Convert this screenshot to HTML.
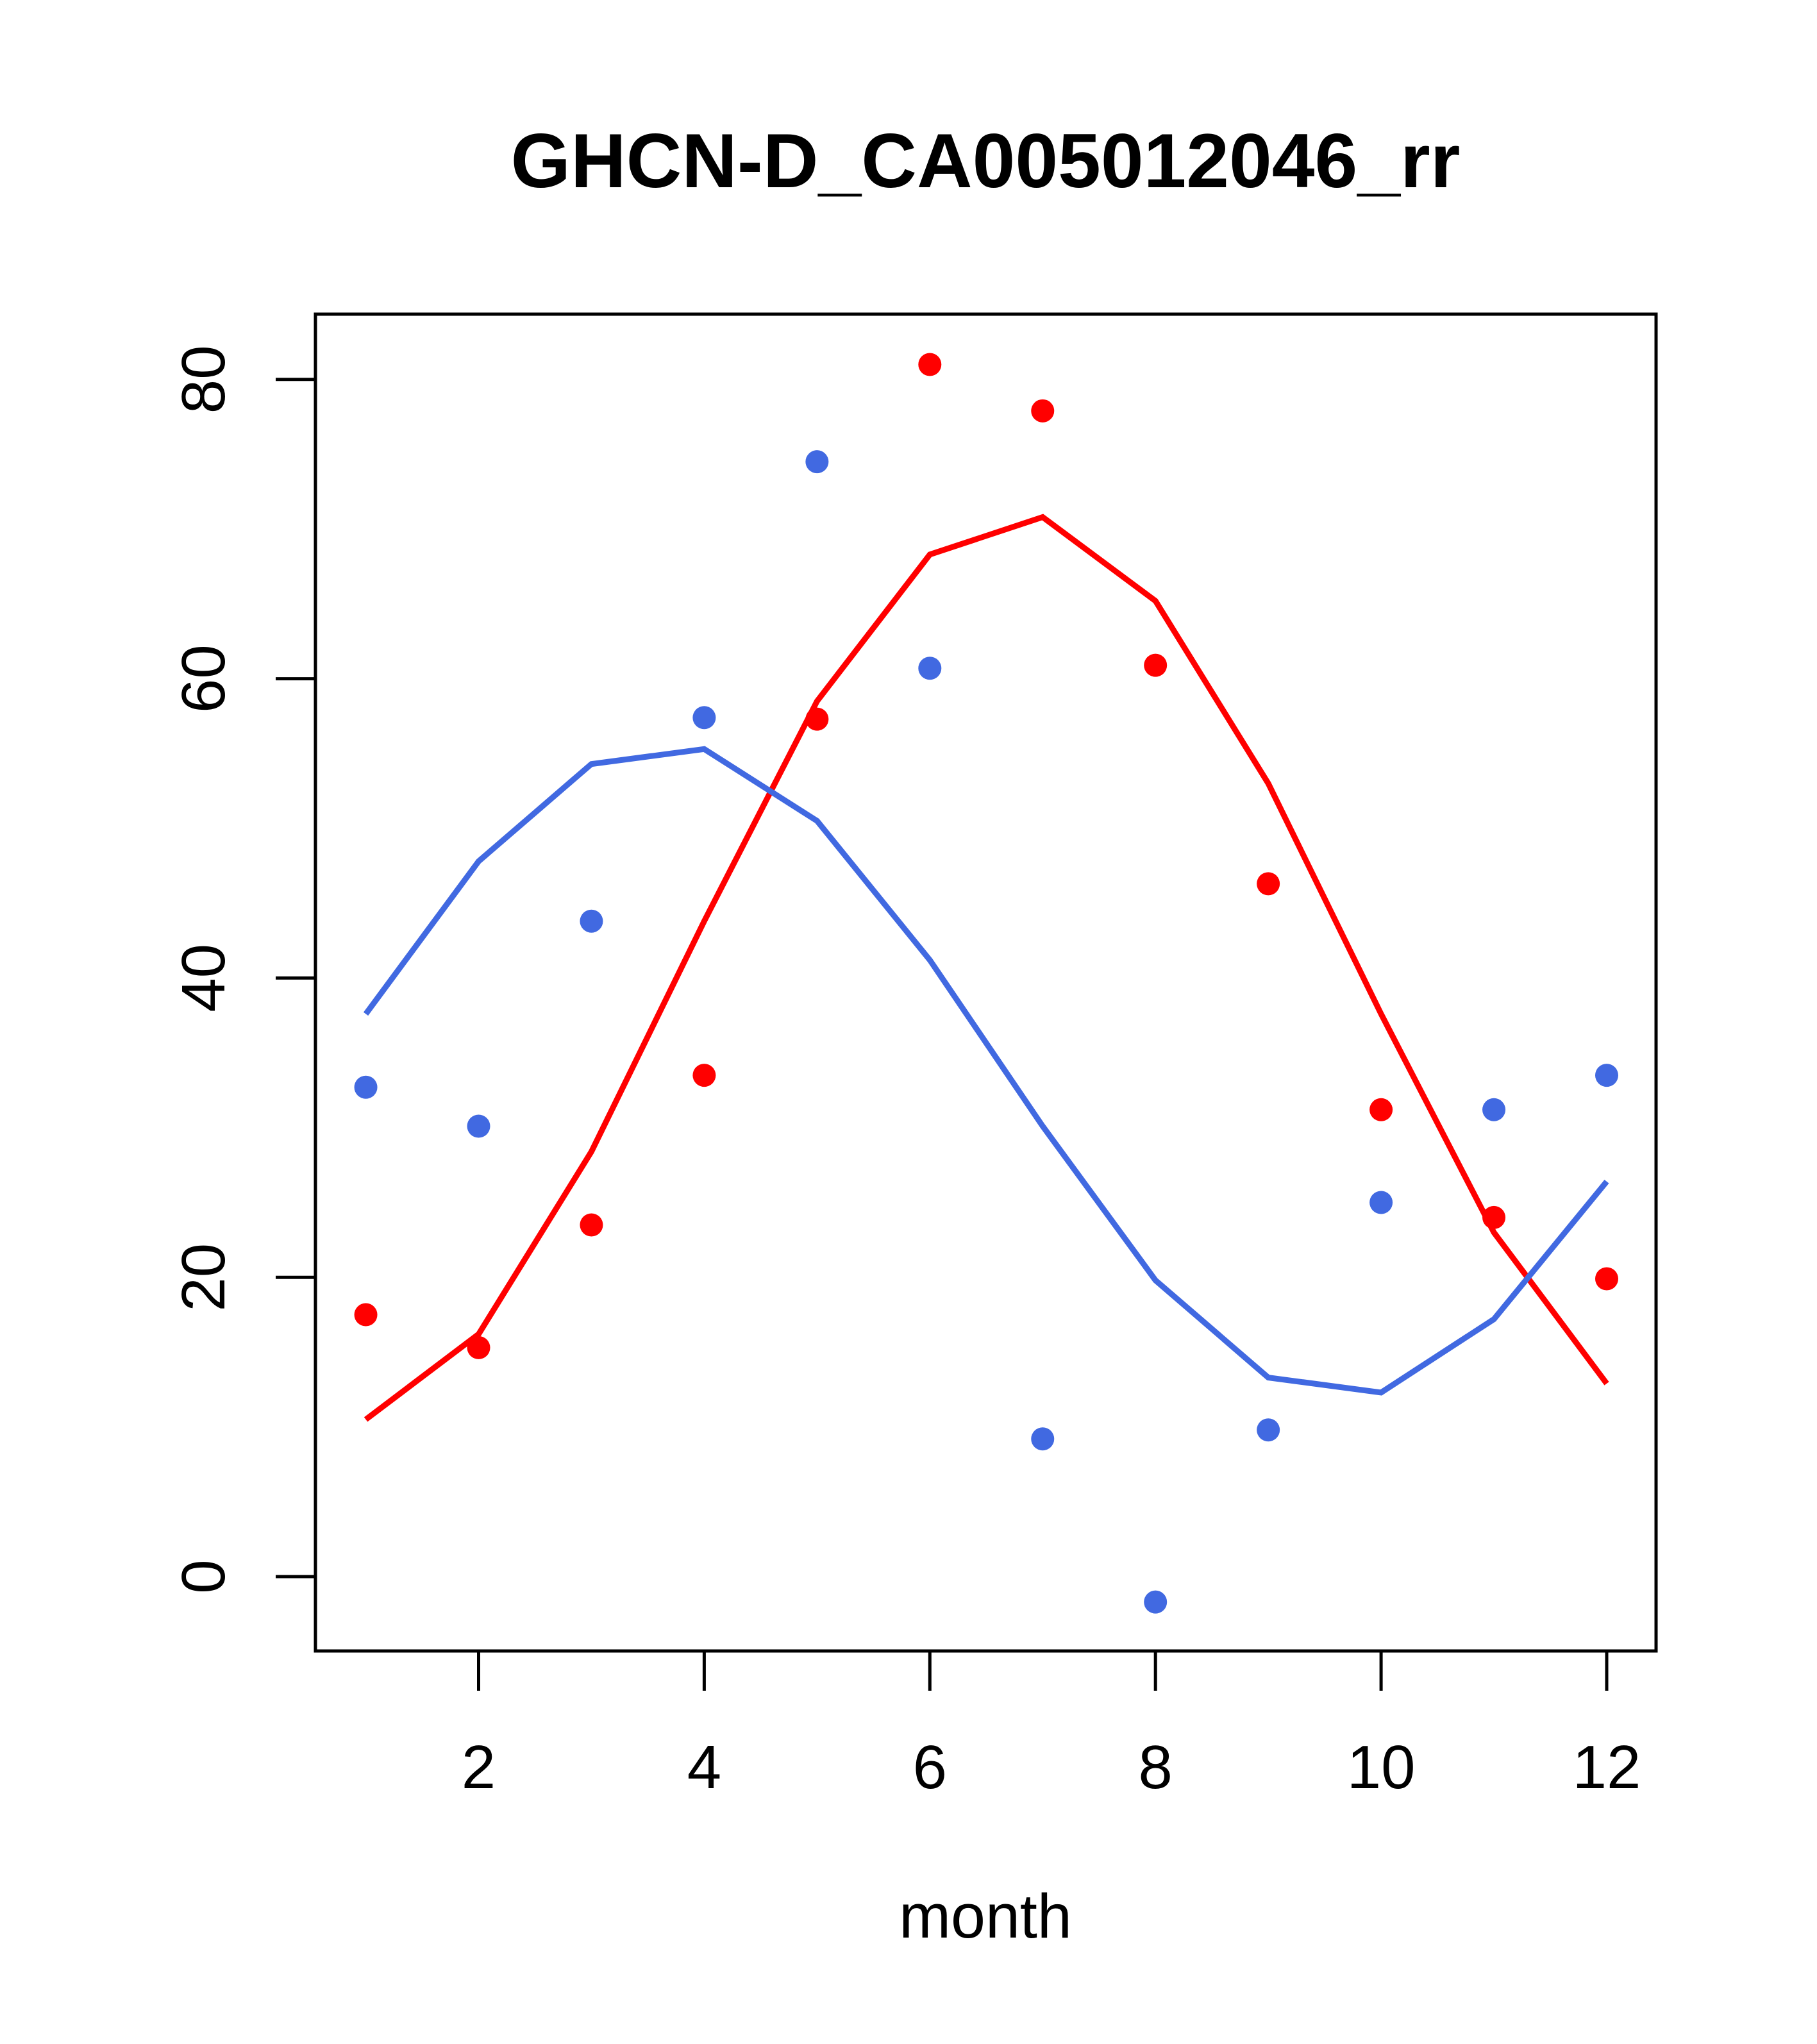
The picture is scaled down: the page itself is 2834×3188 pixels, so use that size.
<!DOCTYPE html>
<html><head><meta charset="utf-8"><style>html,body{margin:0;padding:0;background:#fff}svg{display:block}text{font-family:"Liberation Sans",sans-serif}</style></head>
<body>
<svg id="chart" width="2834" height="3188" viewBox="0 0 2834 3188" xmlns="http://www.w3.org/2000/svg">
<rect width="2834" height="3188" fill="#fff"/>
<text x="1537" y="292" font-size="120" font-weight="bold" text-anchor="middle">GHCN-D_CA005012046_rr</text>
<rect x="492" y="490" width="2091" height="2085" fill="none" stroke="#000" stroke-width="5"/>
<text x="1537" y="3022" font-size="97" text-anchor="middle">month</text>
<g id="axes"></g>
<g id="marks"></g>
</svg>
<script>
const months = [1,2,3,4,5,6,7,8,9,10,11,12];
const redPoints = [17.5,15.3,23.5,33.5,57.3,81.0,77.9,60.9,46.3,31.2,24.0,19.9];
const redLine = [10.5,16.2,28.4,43.8,58.5,68.3,70.8,65.2,53.0,37.6,23.0,12.9];
const bluePoints = [32.7,30.1,43.8,57.4,74.5,60.7,9.2,-1.7,9.8,25.0,31.2,33.5];
const blueLine = [37.6,47.8,54.3,55.3,50.5,41.2,30.1,19.8,13.3,12.3,17.2,26.4];
const xTicks = [2,4,6,8,10,12];
const yTicks = [0,20,40,60,80];

const NS = "http://www.w3.org/2000/svg";
function xs(m){ return 746.5 + (m-2)*175.95; }
function ys(v){ return 2459 - v*23.34; }
function mk(tag, attrs, parent){ const e=document.createElementNS(NS,tag); for(const k in attrs) e.setAttribute(k,attrs[k]); parent.appendChild(e); return e; }
const axes=document.getElementById('axes'), marks=document.getElementById('marks');

xTicks.forEach(t=>{
  const l=mk('line',{x1:xs(t),x2:xs(t),y1:2575,y2:2637,stroke:'#000','stroke-width':5},axes);
  
  
  const tx=mk('text',{x:xs(t),y:2789,'font-size':96,'text-anchor':'middle'},axes);
  tx.textContent=t;
  
  
});
yTicks.forEach(t=>{
  const l=mk('line',{x1:430,x2:492,y1:ys(t),y2:ys(t),stroke:'#000','stroke-width':5},axes);
  
  
  const tx=mk('text',{x:350,y:ys(t),'font-size':96,'text-anchor':'middle',transform:`rotate(-90 350 ${ys(t)})`},axes);
  tx.textContent=t;
  
  
});

function line(vals,color,name){
  const p=mk('polyline',{points:months.map((m,i)=>xs(m)+','+ys(vals[i])).join(' '),fill:'none',stroke:color,'stroke-width':9},marks);
  
  
}
function pts(vals,color,name){
  months.forEach((m,i)=>{
    const c=mk('circle',{cx:xs(m),cy:ys(vals[i]),r:18,fill:color},marks);
    
    
  });
}
line(redLine,'#ff0000','red-line');
line(blueLine,'#4169e1','blue-line');
pts(redPoints,'#ff0000','red-point');
pts(bluePoints,'#4169e1','blue-point');
</script>
</body></html>
